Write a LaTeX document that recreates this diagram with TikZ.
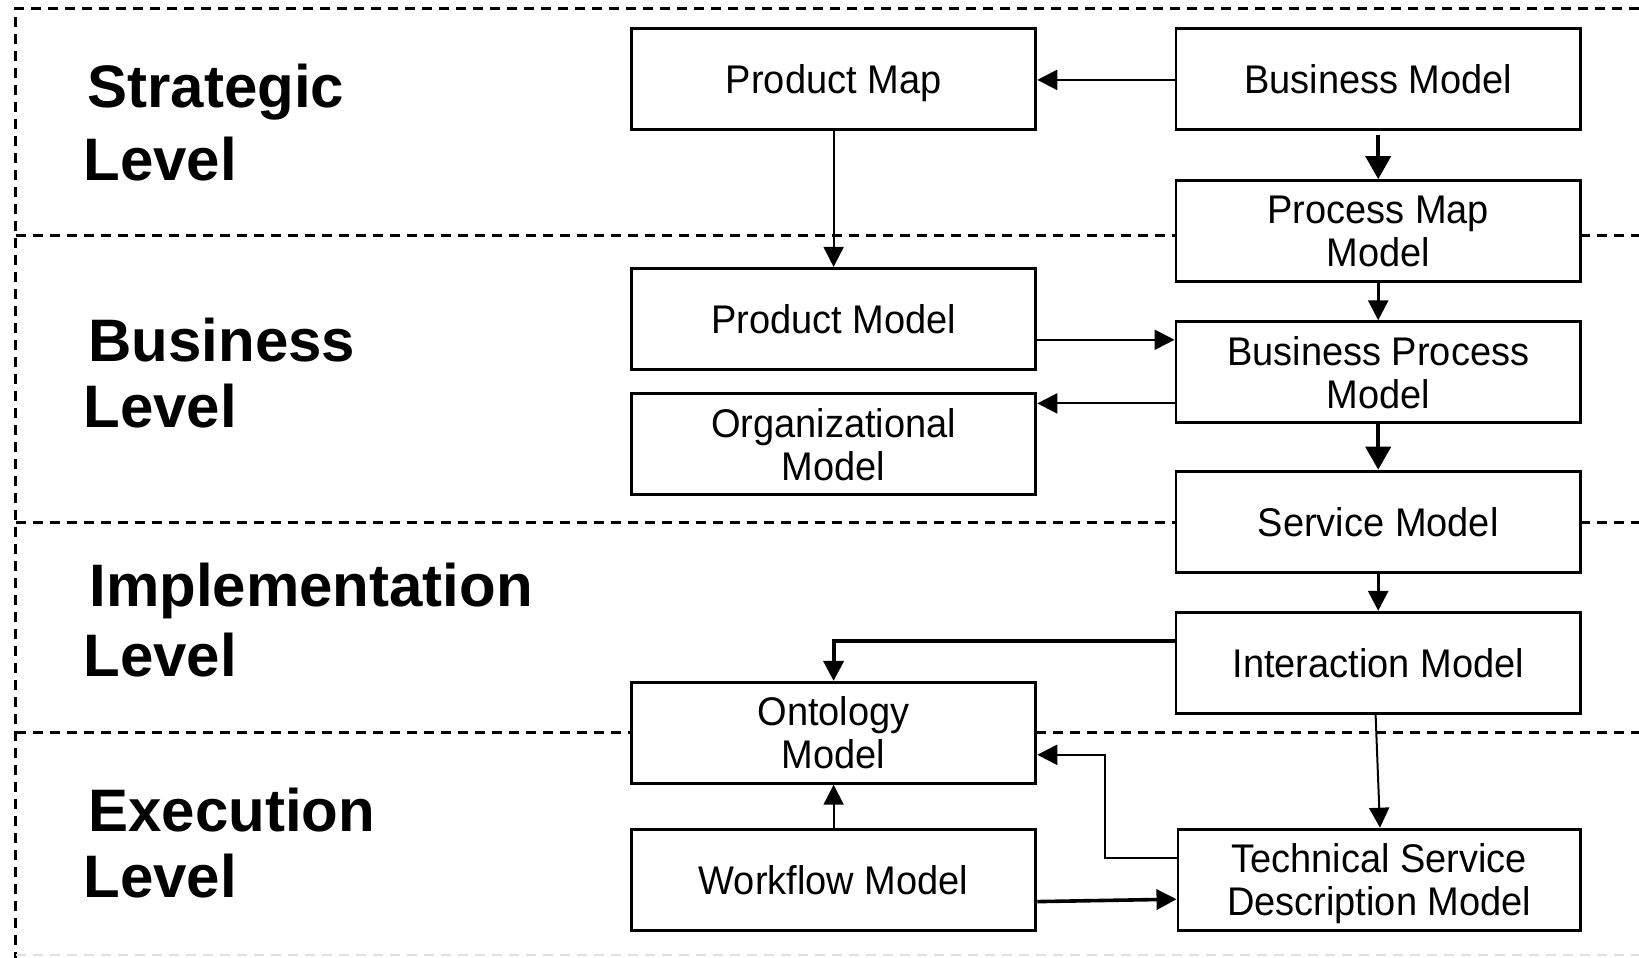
\documentclass[tikz,border=0pt]{standalone}
\usepackage{fontspec}
\setmainfont{Liberation Sans}
\newfontfamily\boxfont[FakeStretch=0.95]{Liberation Sans}
\usetikzlibrary{arrows.meta}
\tikzset{
  box/.style={draw, line width=1.4pt, fill=white, minimum width=202.25pt, minimum height=50.5pt,
    inner sep=0pt, align=center, text depth=0pt, font=\boxfont\fontsize{20}{21.5}\selectfont},
  lvl/.style={anchor=base west, inner sep=0pt, font=\bfseries\fontsize{30}{34}\selectfont},
  arr/.style={-{Triangle[length=10pt,width=10pt]}, line width=1pt},
  tarr/.style={-{Triangle[length=11.5pt,width=12.5pt]}, line width=2pt},
  sep/.style={dash pattern=on 5pt off 3.5pt, line width=1.4pt},
}
\begin{document}
\begin{tikzpicture}[x=0.5pt,y=-0.5pt]
\useasboundingbox (0,0) rectangle (1639,958);
% frame and level separators
\draw[sep] (1639,8.4) -- (15.7,8.4) -- (15.7,958);
\draw[sep, black!12] (15.7,955) -- (1639,955);
\draw[sep] (15.7,235.2) -- (1639,235.2);
\draw[sep] (15.7,522.7) -- (1639,522.7);
\draw[sep] (15.7,732.8) -- (1639,732.8);
% level labels
\node[lvl] (s1) at (87,107.7) {Strategic};
\node[lvl] (s2) at (83,180) {Level};
\node[lvl] (b1) at (88,361.7) {Business};
\node[lvl] (b2) at (83,427.5) {Level};
\node[lvl] (i1) at (89,606) {Implementation};
\node[lvl] (i2) at (83,676) {Level};
\node[lvl] (e1) at (88,831) {Execution};
\node[lvl] (e2) at (83,897) {Level};
% boxes
\node[box] (PM)  at (833.6,78.9)  {Product Map};
\node[box] (BM)  at (1378.2,78.9) {Business Model};
\node[box] (PMM) at (1378.2,231)  {Process Map\\Model};
\node[box] (ProdM) at (833.6,318.8) {Product Model};
\node[box] (BPM) at (1378.2,372.2) {Business Process\\Model};
\node[box] (Org) at (833.6,444.2) {Organizational\\Model};
\node[box] (SM)  at (1378.2,521.6) {Service Model};
\node[box] (IM)  at (1378.2,662.7) {Interaction Model};
\node[box] (OM)  at (833.6,732.8) {Ontology\\Model};
\node[box] (WM)  at (833.6,879.6) {Workflow Model};
\node[box, minimum width=201.25pt] (TSD) at (1379.2,879.6) {Technical Service\\Description Model};
% connectors
\coordinate (c1) at ([yshift=-0.5pt]BM.west);
\draw[arr] (c1) -- (c1 -| PM.east);
\draw[tarr, shorten <=2pt] (BM.south) -- (PMM.north);
\draw[arr] (PM.south) -- (ProdM.north);
\draw[arr, line width=1.3pt] (PMM.south) -- (BPM.north);
\coordinate (c2) at ([yshift=-10.5pt]ProdM.east);
\draw[arr] (c2) -- (c2 -| BPM.west);
\coordinate (c3) at ([yshift=-15.6pt]BPM.west);
\draw[arr] (c3) -- (c3 -| Org.east);
\draw[tarr] (BPM.south) -- (SM.north);
\draw[arr, line width=1.5pt] (SM.south) -- (IM.north);
\coordinate (c4) at ([yshift=11pt]IM.west);
\draw[arr, line width=2pt] (c4) -| (OM.north);
\draw[arr] ([xshift=-1.3pt]IM.south) -- ([xshift=0.4pt]TSD.north);
\coordinate (c5) at ([yshift=10.8pt]TSD.west);
\coordinate (c6) at ([yshift=-11pt]OM.east);
\draw[arr] (c5) -- ++(-72,0) |- (c6);
\draw[arr] (WM.north) -- (OM.south);
\coordinate (c7) at ([yshift=-11pt]WM.east);
\coordinate (c8) at ([yshift=-9.8pt]TSD.west);
\draw[arr, line width=1.8pt] (c7) -- (c8);
\end{tikzpicture}
\end{document}
